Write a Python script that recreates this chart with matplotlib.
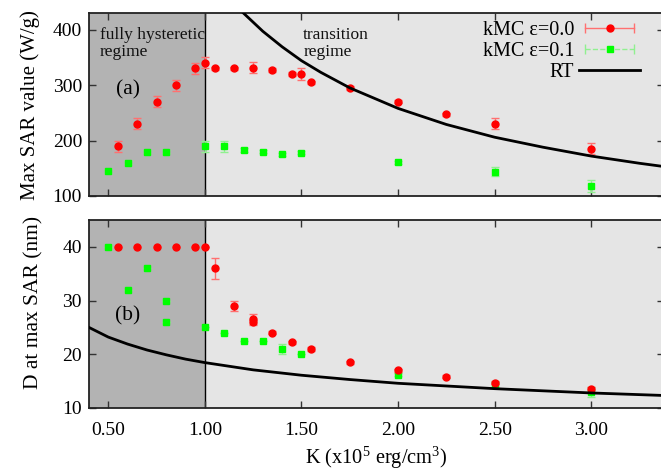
import matplotlib
matplotlib.use("Agg")
import matplotlib.pyplot as plt
from matplotlib.lines import Line2D
from matplotlib.legend_handler import HandlerLine2D, HandlerTuple

plt.rcParams['font.family'] = ['Liberation Serif', 'DejaVu Serif']
plt.rcParams['mathtext.fontset'] = 'custom'
plt.rcParams['mathtext.rm'] = 'Liberation Serif'

# ---- data: panel (a) max SAR ----
k_red_a = [0.55, 0.65, 0.75, 0.85, 0.95, 1.00, 1.05, 1.15, 1.25, 1.35, 1.45, 1.50, 1.55, 1.75, 2.00, 2.25, 2.50, 3.00]
sar_red = [190, 230, 270, 300, 330, 340, 330, 330, 331, 327, 320, 320, 305, 295, 270, 247, 230, 185]
sar_red_err = [10, 10, 10, 10, 10, 10, 3, 3, 10, 3, 3, 10, 3, 3, 3, 3, 10, 10]

k_grn_a = [0.50, 0.60, 0.70, 0.80, 1.00, 1.10, 1.20, 1.30, 1.40, 1.50, 2.00, 2.50, 3.00]
sar_grn = [145, 160, 180, 180, 190, 190, 183, 180, 175, 178, 161, 144, 118]
sar_grn_err = [3, 3, 3, 3, 10, 10, 3, 3, 3, 3, 3, 8, 10]

k_rt_a = [1.19, 1.30, 1.40, 1.50, 1.60, 1.75, 2.00, 2.25, 2.50, 2.75, 3.00, 3.25, 3.40]
sar_rt = [433, 397, 369, 344, 323, 295, 258, 229, 206, 188, 172, 159, 152]

# ---- data: panel (b) D at max SAR ----
k_red_b = [0.55, 0.65, 0.75, 0.85, 0.95, 1.00, 1.05, 1.15, 1.25, 1.25, 1.35, 1.45, 1.55, 1.75, 2.00, 2.25, 2.50, 3.00]
d_red = [40, 40, 40, 40, 40, 40, 36, 29, 26.5, 26.0, 24.0, 22.2, 21.0, 18.5, 17.0, 15.8, 14.7, 13.5]
d_red_err = [0, 0, 0, 0, 0, 0, 2, 1, 1, 0.3, 0.3, 0.3, 0.3, 0.3, 0.3, 0.3, 0.3, 0.5]

k_grn_b = [0.50, 0.60, 0.70, 0.80, 0.80, 1.00, 1.10, 1.20, 1.30, 1.40, 1.50, 2.00, 2.50, 3.00]
d_grn = [40, 32, 36, 30, 26, 25, 24, 22.5, 22.5, 21, 20, 16.2, 14.4, 13.0]
d_grn_err = [0, 0, 0, 0, 0, 0, 0, 0, 0, 1, 0, 0.3, 0.5, 1]

k_rt_b = [0.40, 0.50, 0.60, 0.70, 0.80, 0.90, 1.00, 1.25, 1.50, 1.75, 2.00, 2.50, 3.00, 3.40]
d_rt = [25.0, 23.2, 21.9, 20.8, 19.9, 19.1, 18.45, 17.1, 16.1, 15.3, 14.6, 13.6, 12.8, 12.3]

xticks = [0.5, 1.0, 1.5, 2.0, 2.5, 3.0]
xticklabels = ['0.50', '1.00', '1.50', '2.00', '2.50', '3.00']

RED = '#ff0000'
RED_ERR = '#ff7070'
GRN = '#00ff00'
GRN_ERR = '#90f090'

fig = plt.figure(figsize=(6.61, 4.72), dpi=100)
W, H = 661, 472
left = 89 / W
right = 1.004
ax1 = fig.add_axes([left, 1 - 196 / H, right - left, (196 - 13) / H])
ax2 = fig.add_axes([left, 1 - 408 / H, right - left, (408 - 220) / H])

XMIN, XMAX = 0.4, 3.375

for ax in (ax1, ax2):
    ax.set_facecolor('#e5e5e5')
    ax.axvspan(XMIN, 1.0, color='#b3b3b3', lw=0, zorder=0)
    ax.axvline(1.0, color='black', lw=1.0, zorder=1)
    ax.set_xlim(XMIN, XMAX)
    ax.set_xticks(xticks)
    ax.tick_params(direction='in', top=True, right=True, length=5, width=1,
                   labelsize=14, color='#333333')
    ax.tick_params(axis='x', pad=10)
    ax.tick_params(axis='y', pad=5)
    for s in ax.spines.values():
        s.set_linewidth(1.3)
        s.set_color('#222222')

MS_C = 5.0
MS_S = 4.6

# panel (a)
ax1.errorbar(k_red_a, sar_red, yerr=sar_red_err, fmt='o', color=RED, ecolor=RED_ERR,
             elinewidth=1, capsize=3, markersize=MS_C, zorder=4)
ax1.errorbar(k_grn_a, sar_grn, yerr=sar_grn_err, fmt='s', color=GRN, ecolor=GRN_ERR,
             elinewidth=1, capsize=3, markersize=MS_S, zorder=3)
ax1.plot(k_rt_a, sar_rt, color='black', lw=2, zorder=5)
ax1.set_ylim(100, 430)
ax1.set_yticks([100, 200, 300, 400])
ax1.set_xticklabels([])
ax1.set_ylabel('Max SAR value (W/g)', fontsize=15)
ax1.yaxis.set_label_coords(-0.0853, 0.497)
ax1.text(0.455, 405, 'fully hysteretic\nregime', fontsize=12.5, va='top', ha='left',
         linespacing=1.1, color='#111111')
ax1.text(1.509, 405, 'transition\nregime', fontsize=12.5, va='top', ha='left',
         linespacing=1.1, color='#111111')
ax1.text(0.60, 291, '(a)', fontsize=15.5, ha='center', va='center')

# legend
cap_r = Line2D([], [], color=RED_ERR, lw=1, marker='|', markersize=7, markeredgewidth=1)
dot_r = Line2D([], [], color=RED, lw=0, marker='o', markersize=MS_C)
cap_g = Line2D([], [], color=GRN_ERR, lw=1, ls='--', marker='|', markersize=7, markeredgewidth=1)
dot_g = Line2D([], [], color=GRN, lw=0, marker='s', markersize=MS_S)
rt_h = Line2D([], [], color='black', lw=2)
leg = ax1.legend([(cap_r, dot_r), (cap_g, dot_g), rt_h],
                 ['kMC ε=0.0', 'kMC ε=0.1', 'RT'],
                 handler_map={cap_r: HandlerLine2D(numpoints=2),
                              cap_g: HandlerLine2D(numpoints=2),
                              tuple: HandlerTuple(ndivide=1)},
                 loc='upper right', bbox_to_anchor=(0.99, 1.055), frameon=False,
                 markerfirst=False, fontsize=14.5, handlelength=3.0, handletextpad=0.25,
                 labelspacing=0.08)
for t in leg.get_texts():
    t.set_ha('right')
leg._legend_box.align = 'right'

# panel (b)
ax2.errorbar(k_red_b, d_red, yerr=d_red_err, fmt='o', color=RED, ecolor=RED_ERR,
             elinewidth=1, capsize=3, markersize=MS_C, zorder=4)
ax2.errorbar(k_grn_b, d_grn, yerr=d_grn_err, fmt='s', color=GRN, ecolor=GRN_ERR,
             elinewidth=1, capsize=3, markersize=MS_S, zorder=3)
ax2.plot(k_rt_b, d_rt, color='black', lw=2, zorder=5)
ax2.set_ylim(10, 45)
ax2.set_yticks([10, 20, 30, 40])
ax2.set_xticklabels(xticklabels)
ax2.set_ylabel('D at max SAR (nm)', fontsize=15.5)
ax2.yaxis.set_label_coords(-0.080, 0.559)
ax2.text(0.60, 27.1, '(b)', fontsize=15.5, ha='center', va='center')
ax2.set_xlabel('K (x10$^5$ erg/cm$^3$)', fontsize=14.7, labelpad=4)

fig.savefig('out.png', dpi=100)
